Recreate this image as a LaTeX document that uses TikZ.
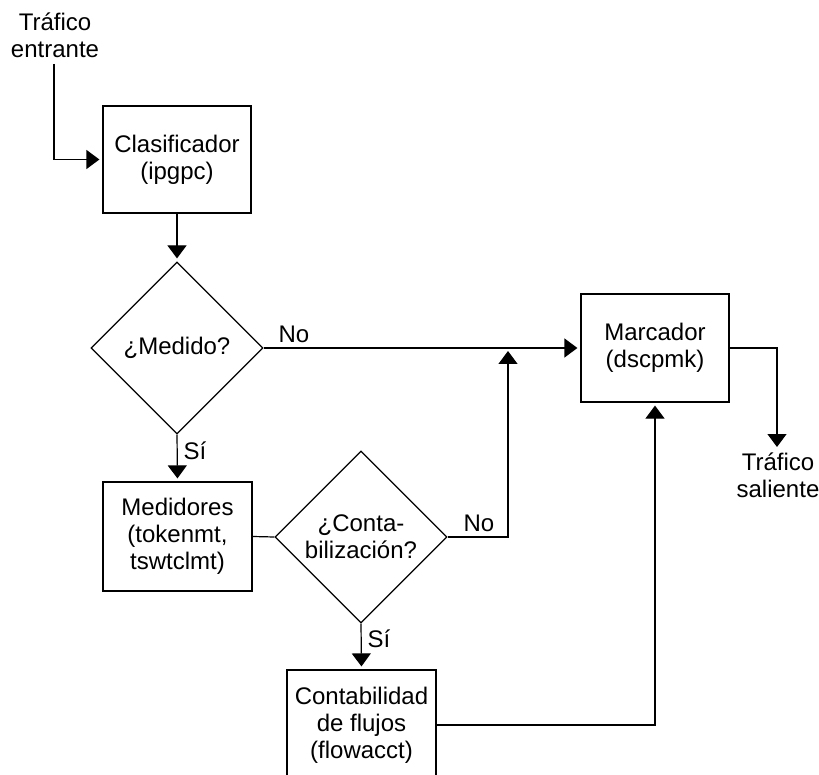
\documentclass[tikz,border=0pt]{standalone}
\usepackage{fontspec}
\setmainfont{Liberation Sans}
\usetikzlibrary{shapes.geometric,arrows.meta}
\begin{document}
\begin{tikzpicture}[x=1pt,y=-1pt,
  font=\fontsize{24}{27}\selectfont,
  line width=1.2pt,
  box/.style={draw, rectangle, minimum width=148pt, align=center, inner sep=2pt},
  dec/.style={draw, diamond, minimum width=172pt, minimum height=172pt, inner sep=0pt, align=center},
  arr/.style={-{Triangle[length=13pt,width=19pt]}, shorten >=3pt},
  lbl/.style={anchor=base west, inner sep=0pt}]
\useasboundingbox (0,0) rectangle (819,775);
\node[box, minimum height=107pt] (clas) at (177,159.5) {Clasificador\\(ipgpc)};
\node[dec] (med) at (177,348) {¿Medido?};
\node[box, minimum width=149pt, minimum height=109pt] (meds) at (177.5,536.5) {Medidores\\(tokenmt,\\tswtclmt)};
\node[dec] (cont) at (361,537) {¿Conta-\\bilización?};
\node[box, minimum width=149pt, minimum height=110pt] (flow) at (361.5,725) {Contabilidad\\de flujos\\(flowacct)};
\node[box, minimum height=108pt] (marc) at (655,348) {Marcador\\(dscpmk)};
\coordinate (in) at (54,64);
\coordinate (join) at (508,348);
\coordinate (out) at (777,450);
\draw[arr] (in) |- (clas.west);
\draw[arr] (clas.south) -- (med.north);
\draw[arr] (med.east) -- (marc.west);
\draw[arr] (med.south) -- (meds.north);
\draw (meds.east) -- (cont.west);
\draw[arr] (cont.east) -| (join);
\draw[arr] (cont.south) -- (flow.north);
\draw[arr] (flow.east) -| (marc.south);
\draw[arr] (marc.east) -| (out);
\node[lbl] (no1) at (278,343) {No};
\node[lbl] (no2) at (463,531) {No};
\node[lbl] (si1) at (183,459) {Sí};
\node[lbl] (si2) at (367,647) {Sí};
\node[align=center, anchor=base] (tin) at (55,58) {Tráfico\\entrante};
\node[align=center, anchor=base] (tout) at (778,497) {Tráfico\\saliente};
\end{tikzpicture}
\end{document}
